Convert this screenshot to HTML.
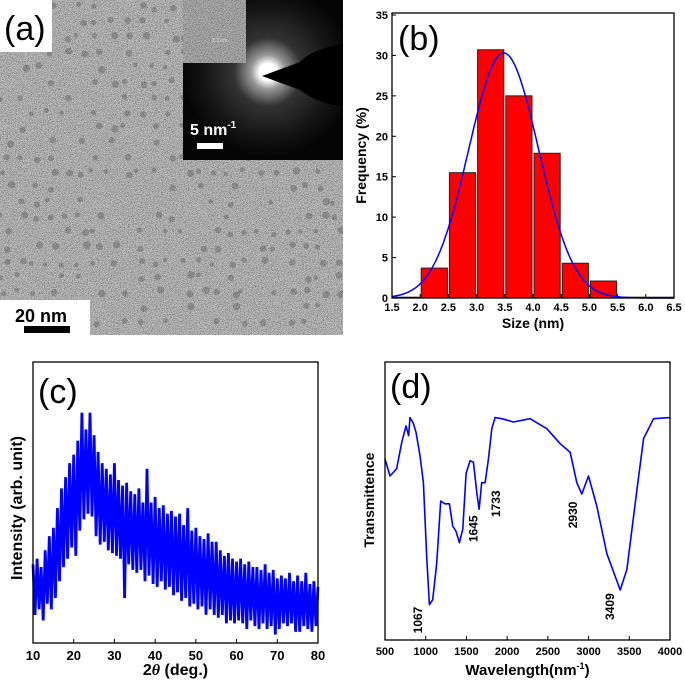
<!DOCTYPE html>
<html><head><meta charset="utf-8"><style>
html,body{margin:0;padding:0;background:#fff;width:685px;height:685px;overflow:hidden}
svg{display:block;font-family:"Liberation Sans",Arial,sans-serif}
</style></head><body>
<svg id="fig" width="685" height="685" viewBox="0 0 685 685">
<defs>
<filter id="grain" x="0" y="0" width="100%" height="100%">
<feTurbulence type="fractalNoise" baseFrequency="1.3" numOctaves="2" seed="3" result="n"/>
<feComponentTransfer in="n" result="g"><feFuncR type="linear" slope="2.6" intercept="-0.75"/><feFuncG type="linear" slope="2.6" intercept="-0.75"/><feFuncB type="linear" slope="2.6" intercept="-0.75"/><feFuncA type="linear" slope="0" intercept="1"/></feComponentTransfer>
<feColorMatrix in="g" type="saturate" values="0"/>
</filter>
<radialGradient id="glow" cx="0.5" cy="0.5" r="0.5">
<stop offset="0" stop-color="#fff"/><stop offset="0.1" stop-color="#fff"/><stop offset="0.2" stop-color="#999"/><stop offset="0.4" stop-color="#333"/><stop offset="0.75" stop-color="#151515"/><stop offset="1" stop-color="#050505"/>
</radialGradient>
<clipPath id="insetClip"><rect x="183" y="0" width="160" height="160"/></clipPath>
<clipPath id="temClip"><rect x="0" y="0" width="343" height="335"/></clipPath>
</defs>

<!-- Panel a: TEM -->
<g>
<rect x="0" y="0" width="343" height="335" fill="#8a8a8a"/>
<rect x="0" y="0" width="343" height="335" filter="url(#grain)" opacity="0.6"/>
<g id="dots" fill="#4a4a4a" opacity="0.35" clip-path="url(#temClip)"></g>
<rect x="0" y="0" width="52" height="52" fill="#fff"/>
<text x="4" y="40" font-size="34" fill="#000">(a)</text>
<g clip-path="url(#insetClip)">
<rect x="183" y="0" width="160" height="160" fill="#050505"/>
<circle cx="268" cy="72" r="85" fill="url(#glow)"/>
<path d="M262 76 L300 62 Q310 50 343 44 L343 106 Q318 104 300 90 Z" fill="#000"/>
<text x="190" y="135" font-size="16" font-weight="bold" fill="#fff">5 nm<tspan font-size="10" dy="-7">-1</tspan></text>
<rect x="197" y="143" width="26" height="6" fill="#fff"/>
</g>
<g>
<rect x="183" y="0" width="63" height="63" fill="#7a7a7a"/>
<rect x="183" y="0" width="63" height="63" filter="url(#grain)" opacity="0.5"/>
<text x="212" y="42" font-size="5" fill="#ddd">3.3 nm</text>
</g>
<rect x="0" y="300" width="90" height="35" fill="#fff"/>
<text x="15" y="322" font-size="18" font-weight="bold" fill="#000">20 nm</text>
<rect x="24" y="326" width="46" height="7" fill="#000"/>
</g>

<g id="panelB"></g>
<g id="panelC"></g>
<g id="panelD"></g>
</svg>
<script>
const NS="http://www.w3.org/2000/svg";
// ---- Panel b data ----
const binStarts=[1.5,2.0,2.5,3.0,3.5,4.0,4.5,5.0,5.5,6.0];
const binFreq=[0.1,3.7,15.5,30.7,25.0,17.9,4.3,2.1,0.1,0.1];
const bTicksX=["1.5","2.0","2.5","3.0","3.5","4.0","4.5","5.0","5.5","6.0","6.5"];
const bTicksY=[0,5,10,15,20,25,30,35];
const fitMean=3.48, fitSigma=0.62, fitPeak=30.3;
// ---- Panel c data (2theta every 0.5 deg from 10) ----
const xrdStart=10, xrdStep=0.5;
const xrdVals=[28,10,30,12,27,8,33,14,38,12,41,16,48,22,55,27,59,30,64,34,67,31,72,40,82,44,76,46,82,45,74,38,68,35,64,36,62,33,60,32,64,31,58,30,56,16,57,28,54,26,53,25,55,26,50,22,62,24,50,21,52,20,48,22,49,19,46,20,47,17,45,18,46,15,42,16,48,13,40,14,41,12,38,13,37,10,39,12,36,10,36,9,33,10,31,7,32,8,30,7,29,8,30,7,28,5,29,8,27,6,27,5,26,7,28,5,25,6,26,3,23,5,24,7,23,6,25,7,22,4,24,4,22,6,25,5,21,4,22,6,20];
const cTicksX=[10,20,30,40,50,60,70,80];
// ---- Panel d data ----
const ftirWave=[500,561,643,705,758,790,807,848,881,930,971,1012,1045,1086,1135,1184,1237,1291,1332,1373,1414,1455,1496,1545,1586,1627,1656,1688,1729,1770,1811,1852,1934,2077,2282,2487,2651,2774,2856,2917,2999,3102,3225,3389,3471,3594,3676,3799,4000];
const ftirT=[65.1,59,61.6,71,77,73.5,80,78,74.7,66.3,56.6,30,12.7,14.5,27.6,50,49,49,41,39,35,40,60,64.5,64,53,47,56.6,56.6,65,76,80,79.6,78.4,79.6,76,70.6,67.5,56.6,52.5,59,48,31,18,25.4,54,72.5,79.6,80];
const dTicksX=[500,1000,1500,2000,2500,3000,3500,4000];
const peakLabels=[1067,1645,1733,2930,3409];
const peakLabelWave=[905,1584,1861,2807,3262];
const peakLabelT=[7.2,40,49,45,12];

function el(tag,attrs,parent){const e=document.createElementNS(NS,tag);for(const k in attrs)e.setAttribute(k,attrs[k]);parent.appendChild(e);return e;}

// dots on TEM (texture)
(function(){const g=document.getElementById('dots');
for(let j=0;j<22;j++){for(let i=0;i<23;i++){const h=Math.sin(i*12.9898+j*78.233)*43758.5453;const f=h-Math.floor(h);const h2=Math.sin(i*39.3+j*11.7)*24634.63;const f2=h2-Math.floor(h2);
if(f<0.45)continue;const cx=i*15+f2*12,cy=j*15+f*10;
el('circle',{cx:cx.toFixed(1),cy:cy.toFixed(1),r:(2.2+f2*1.6).toFixed(1)},g);}}})();

// Panel b
(function(){const g=document.getElementById('panelB');
const X0=392,X1=674,Y0=298,Y1=13;
const sx=v=>X0+(v-1.5)/(6.5-1.5)*(X1-X0);
const sy=v=>Y0-(v/35)*(Y0-15);
for(let i=0;i<binStarts.length;i++){const r=el('rect',{x:sx(binStarts[i])+1,y:sy(binFreq[i]),width:sx(binStarts[i]+0.5)-sx(binStarts[i])-2,height:Y0-sy(binFreq[i]),fill:'#ff0000',stroke:'#222','stroke-width':1},g);

}
let d='';for(let v=1.5;v<=6.5001;v+=0.02){const f=fitPeak*Math.exp(-Math.pow(v-fitMean,2)/(2*fitSigma*fitSigma));d+=(d?'L':'M')+sx(v).toFixed(1)+' '+sy(f).toFixed(1);}
const p=el('path',{d:d,fill:'none',stroke:'#0000ff','stroke-width':1.5},g);


const fr=el('rect',{x:X0,y:Y1,width:X1-X0,height:Y0-Y1,fill:'none',stroke:'#000','stroke-width':1.3},g);


bTicksX.forEach(t=>{const x=sx(parseFloat(t));el('line',{x1:x,x2:x,y1:Y0,y2:Y0-4,stroke:'#000'},g);
const tx=el('text',{x:x,y:Y0+13,'font-size':11,'font-weight':'bold','text-anchor':'middle'},g);tx.textContent=t;

});
bTicksY.forEach(t=>{const y=sy(t);el('line',{x1:X0,x2:X0+4,y1:y,y2:y,stroke:'#000'},g);
const tx=el('text',{x:X0-4,y:y+4,'font-size':11,'font-weight':'bold','text-anchor':'end'},g);tx.textContent=t;

});
const xt=el('text',{x:(X0+X1)/2,y:328,'font-size':14,'font-weight':'bold','text-anchor':'middle'},g);xt.textContent='Size (nm)';


const yt=el('text',{x:0,y:0,'font-size':14,'font-weight':'bold','text-anchor':'middle',transform:'translate(366,'+(Y0+Y1)/2+') rotate(-90)'},g);yt.textContent='Frequency (%)';


const lb=el('text',{x:398,y:50,'font-size':34},g);lb.textContent='(b)';


})();

// Panel c
(function(){const g=document.getElementById('panelC');
const X0=33,X1=318,Y0=643,Y1=362;
const sx=v=>X0+(v-10)/70*(X1-X0);
const sy=v=>Y0-v/100*(Y0-Y1);
let pts=xrdVals.map((v,i)=>sx(xrdStart+i*xrdStep).toFixed(1)+','+sy(v).toFixed(1)).join(' ');
const pl=el('polyline',{points:pts,fill:'none',stroke:'#0000ff','stroke-width':2.8,'stroke-linejoin':'bevel'},g);


const fr=el('rect',{x:X0,y:Y1,width:X1-X0,height:Y0-Y1,fill:'none',stroke:'#000','stroke-width':1.3},g);


cTicksX.forEach(t=>{const x=sx(t);el('line',{x1:x,x2:x,y1:Y0,y2:Y0-4,stroke:'#000'},g);
const tx=el('text',{x:x,y:Y0+17,'font-size':13,'font-weight':'bold','text-anchor':'middle'},g);tx.textContent=t;

});
const xt=el('text',{x:(X0+X1)/2,y:675,'font-size':16,'font-weight':'bold','text-anchor':'middle'},g);
xt.innerHTML='2<tspan font-style="italic" font-family="Liberation Serif">θ</tspan> (deg.)';


const yt=el('text',{x:0,y:0,'font-size':16,'font-weight':'bold','text-anchor':'middle',transform:'translate(22,508) rotate(-90)'},g);yt.textContent='Intensity (arb. unit)';


const lb=el('text',{x:38,y:403,'font-size':34},g);lb.textContent='(c)';


})();

// Panel d
(function(){const g=document.getElementById('panelD');
const X0=385,X1=670,Y0=640,Y1=362;
const sx=v=>X0+(v-500)/3500*(X1-X0);
const sy=v=>Y0-v/100*(Y0-Y1);
const pts=ftirWave.map((w,i)=>sx(w).toFixed(1)+','+sy(ftirT[i]).toFixed(1)).join(' ');
const pl=el('polyline',{points:pts,fill:'none',stroke:'#0000ff','stroke-width':1.6,'stroke-linejoin':'round'},g);


const fr=el('rect',{x:X0,y:Y1,width:X1-X0,height:Y0-Y1,fill:'none',stroke:'#000','stroke-width':1.3},g);


dTicksX.forEach(t=>{const x=sx(t);el('line',{x1:x,x2:x,y1:Y0,y2:Y0-4,stroke:'#000'},g);
const tx=el('text',{x:x,y:Y0+15,'font-size':11,'font-weight':'bold','text-anchor':'middle'},g);tx.textContent=t;

});
peakLabels.forEach((w,i)=>{const x=sx(peakLabelWave[i])+4,y=sy(peakLabelT[i]);
const tx=el('text',{x:0,y:0,'font-size':12,'font-weight':'bold','text-anchor':'middle',transform:'translate('+x.toFixed(1)+','+y.toFixed(1)+') rotate(-90)'},g);tx.textContent=w;

});
const xt=el('text',{x:(X0+X1)/2,y:675,'font-size':15,'font-weight':'bold','text-anchor':'middle'},g);
xt.innerHTML='Wavelength(nm<tspan font-size="9" dy="-6">-1</tspan><tspan dy="6">)</tspan>';


const yt=el('text',{x:0,y:0,'font-size':14,'font-weight':'bold','text-anchor':'middle',transform:'translate(374,500) rotate(-90)'},g);yt.textContent='Transmittence';


const lb=el('text',{x:390,y:398,'font-size':34},g);lb.textContent='(d)';


})();
</script>
</body></html>
